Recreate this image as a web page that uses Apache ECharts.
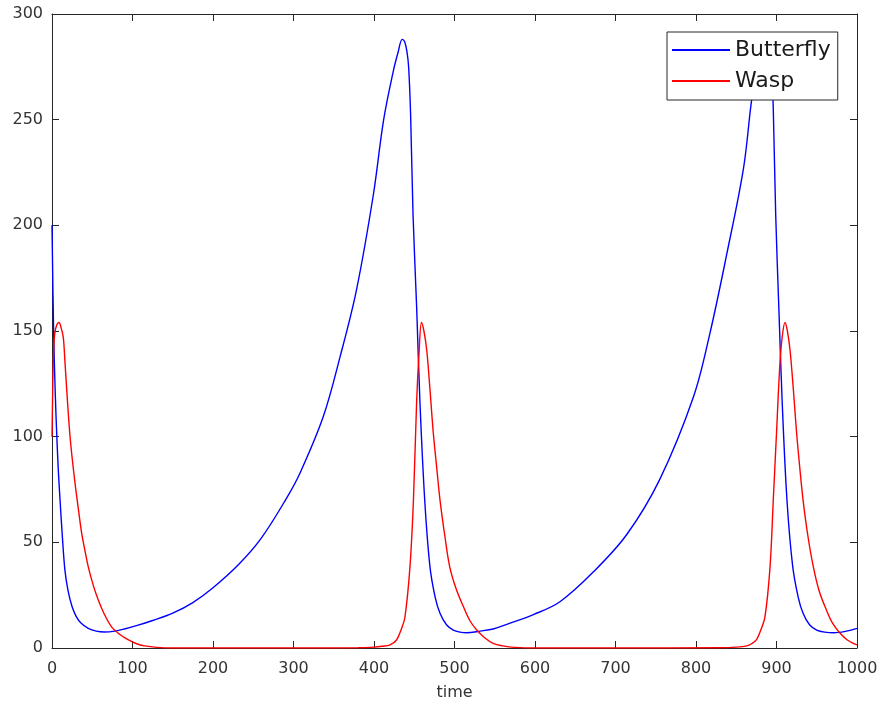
<!DOCTYPE html>
<html>
<head>
	<meta charset="UTF-8">
	<title>Butterfly / Wasp</title>
	<script src="https://cdn.jsdelivr.net/npm/echarts@6/dist/echarts.min.js"></script>
	<style>
		html, body { margin: 0; padding: 0; background: #fff; overflow: hidden; }
		#main { width: 878px; height: 705px; }
	</style>
</head>
<body>
	<div id="main"></div>
	<script>

	// butterfly population
	var butterflyTime = [0, 2, 4, 6, 8, 10, 13, 16, 20, 25, 30, 36, 45, 55, 65, 78, 90, 107, 125, 150,
		175, 200, 233, 260, 290, 308, 337, 358, 378, 399, 412, 424, 430, 435, 438, 441, 443, 445.5, 448.5, 453,
		457, 463, 469.5, 476, 482, 490, 498.5, 507, 515, 532, 548, 565, 598, 631, 672, 714, 755, 797, 817, 838,
		859, 869, 875, 880, 885, 888, 891, 894, 896, 899, 903, 907, 913, 920, 927, 933, 941, 950, 960, 971, 987, 1000];
	var butterflyCount = [200, 150, 121, 100, 83, 70, 52, 37, 27, 19.5, 15, 11.8, 9.3, 8, 7.6, 8, 9, 10.8, 13, 16.5,
		21.5, 28.5, 40, 52, 70, 82.7, 109.5, 138, 169, 214, 250, 273, 282, 288, 287, 282, 275, 252, 205, 161,
		117, 70, 38.5, 24, 16.4, 11, 8.5, 7.5, 7.2, 8, 9, 11.2, 15.8, 21.9, 35.8, 53.7, 79.8, 119, 148.4, 186,
		227, 259, 272, 283, 288, 287, 282, 272, 255, 205, 160, 117, 70, 39, 24, 16.4, 11, 8.5, 7.5, 7.2, 8, 9.3];

	// wasp population
	var waspTime = [0, 1, 2, 3.5, 6, 8.7, 11, 14, 16, 19, 22, 25, 28.6, 33, 37, 41, 45, 51, 57.5, 65,
		74, 84, 95, 105, 115, 130, 150, 200, 300, 380, 400, 410, 420, 428, 434, 438.5, 444.7, 449, 453, 456,
		459, 462, 465.5, 469, 473.7, 478, 482, 488, 494, 502, 511, 519, 527.6, 537, 548, 560, 575, 600, 700, 830,
		850, 863, 869, 875, 880, 885.7, 892, 896, 900, 904, 907, 910.6, 913.5, 916.8, 921, 925, 929, 933, 939, 945.7,
		953, 962, 970, 979, 988, 997.5, 1000];
	var waspCount = [100, 125, 140, 149, 153, 154, 152, 147, 136, 118, 102, 90, 78, 65, 54, 46, 38.5, 30, 22.7, 16,
		10, 6.5, 3.8, 2, 1, 0.3, 0, 0, 0, 0.1, 0.4, 0.8, 1.5, 3.8, 9, 14.8, 38.5, 70, 117, 140,
		154, 150, 141, 125, 101.6, 85, 70, 53, 38.5, 28, 19.6, 13, 8.5, 5, 2.2, 1, 0.3, 0, 0, 0.1,
		0.4, 1, 2, 3.8, 8, 14.8, 38.5, 70, 101.6, 133, 147, 154, 150, 141, 122, 101.6, 85, 70, 53, 38.5,
		27, 18, 11.5, 7, 3.8, 1.8, 1.5];

	var seriesNames = ['Butterfly', 'Wasp'];
	var colorArray = ['#0000ff', '#ff0000'];

	function pairUp(xs, ys) {
		var out = [];
		for (var i = 0; i < xs.length; i++) {
			out.push([xs[i], ys[i]]);
		}
		return out;
	}

	var axisColor = '#262626';
	var labelStyle = { color: '#333', fontSize: 16, fontFamily: 'DejaVu Sans' };

	function boxAxis(extra) {
		var base = {
			type: 'value',
			axisLine: { show: true, onZero: false, lineStyle: { color: axisColor, width: 1 } },
			axisTick: { show: true, inside: true, length: 7, lineStyle: { color: axisColor, width: 1 } },
			splitLine: { show: false }
		};
		for (var k in extra) base[k] = extra[k];
		return base;
	}

	var option = {
		animation: false,
		backgroundColor: '#fff',
		grid: { left: 52, right: 21, top: 14, bottom: 57, outerBoundsMode: 'none' },
		legend: {
			orient: 'vertical',
			left: 667,
			top: 32,
			data: seriesNames,
			icon: 'rect',
			itemWidth: 58,
			itemHeight: 2,
			itemGap: 7,
			padding: [6, 7, 7, 5],
			backgroundColor: '#fff',
			borderColor: axisColor,
			borderWidth: 1,
			selectedMode: false,
			textStyle: { color: '#1a1a1a', fontSize: 22, fontFamily: 'DejaVu Sans', lineHeight: 24 }
		},
		xAxis: [
			boxAxis({
				position: 'bottom', min: 0, max: 1000, interval: 100,
				name: 'time', nameLocation: 'middle', nameGap: 37,
				nameTextStyle: { color: '#333', fontSize: 16, fontFamily: 'DejaVu Sans' },
				axisLabel: {
					margin: 13, color: labelStyle.color, fontSize: labelStyle.fontSize, fontFamily: labelStyle.fontFamily,
					formatter: function (v) { return String(v); }
				}
			}),
			boxAxis({
				position: 'top', min: 0, max: 1000, interval: 100,
				axisLabel: { show: false }
			})
		],
		yAxis: [
			boxAxis({
				position: 'left', min: 0, max: 300, interval: 50,
				axisLabel: {
					margin: 9, color: labelStyle.color, fontSize: labelStyle.fontSize, fontFamily: labelStyle.fontFamily,
					formatter: function (v) { return String(v); }
				}
			}),
			boxAxis({
				position: 'right', min: 0, max: 300, interval: 50,
				axisLabel: { show: false }
			})
		],
		series: []
	};

	var dataSets = [pairUp(butterflyTime, butterflyCount), pairUp(waspTime, waspCount)];
	for (var i = 0; i < dataSets.length; i++) {
		option.series.push({
			name: seriesNames[i],
			type: 'line',
			data: dataSets[i],
			showSymbol: false,
			symbol: 'none',
			smooth: 0.35,
			lineStyle: { color: colorArray[i], width: 1.4 },
			itemStyle: { color: colorArray[i] }
		});
	}

	var myChart = echarts.init(document.getElementById('main'), null, { renderer: 'canvas' });
	myChart.setOption(option);

	</script>
</body>
</html>
